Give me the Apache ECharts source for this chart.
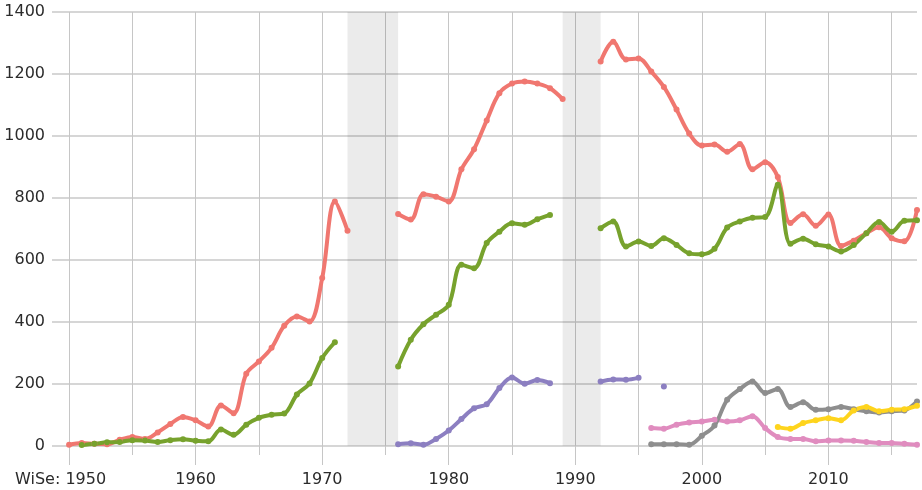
<!DOCTYPE html>
<html>
<head>
<meta charset="utf-8">
<script src="https://cdn.jsdelivr.net/npm/echarts@6/dist/echarts.min.js"></script>
<style>
html,body{margin:0;padding:0;background:#fff;}
#chart{width:922px;height:490px;}
</style>
</head>
<body>
<div id="chart"></div>
<script>
// Years 1950..2017
var years = [];
for (var y = 1950; y <= 2017; y++) years.push(y);

var gridYears = [1950,1955,1960,1965,1970,1975,1980,1985,1990,1995,2000,2005,2010,2015];
var labelYears = [1950,1960,1970,1980,1990,2000,2010];
var yTicks = [0,200,400,600,800,1000,1200,1400];
var bands = [[1972,1976],[1989,1992]];

var seriesRed = [
  3,9,6,5,19,28,22,43,70,93,            // 1950-1959
  82,62,130,105,232,272,316,387,417,401, // 1960-1969
  541,788,694,null,null,null,748,730,812,804, // 1970-1979
  788,892,957,1050,1138,1169,1176,1169,1154,1119, // 1980-1989
  null,null,1240,1304,1247,1250,1208,1158,1085,1008, // 1990-1999
  969,972,949,974,892,915,867,719,747,710, // 2000-2009
  746,645,662,686,705,670,660,761 // 2010-2017
];
var seriesGreen = [
  null,2,6,11,12,18,17,12,18,21,
  16,14,52,35,68,90,100,104,165,201,
  283,334,null,null,null,null,256,342,392,423,
  455,584,573,654,691,718,713,731,745,null,
  null,null,702,724,643,659,645,670,648,621,
  618,636,704,724,736,738,842,652,668,650,
  643,627,648,686,722,691,726,728
];
var seriesPurple = [
  null,null,null,null,null,null,null,null,null,null,
  null,null,null,null,null,null,null,null,null,null,
  null,null,null,null,null,null,5,8,3,22,
  49,86,121,134,186,220,200,212,202,null,
  null,null,207,214,213,219,null,191,null,null,
  null,null,null,null,null,null,null,null,null,null,
  null,null,null,null,null,null,null,null
];
var seriesPink = [
  null,null,null,null,null,null,null,null,null,null,
  null,null,null,null,null,null,null,null,null,null,
  null,null,null,null,null,null,null,null,null,null,
  null,null,null,null,null,null,null,null,null,null,
  null,null,null,null,null,null,57,55,68,75,
  78,84,78,82,95,57,28,22,22,14,
  17,17,16,12,9,9,6,3
];
var seriesGrey = [
  null,null,null,null,null,null,null,null,null,null,
  null,null,null,null,null,null,null,null,null,null,
  null,null,null,null,null,null,null,null,null,null,
  null,null,null,null,null,null,null,null,null,null,
  null,null,null,null,null,null,5,5,5,3,
  32,65,148,183,207,170,183,125,140,116,
  118,125,118,111,107,111,114,143
];
var seriesYellow = [
  null,null,null,null,null,null,null,null,null,null,
  null,null,null,null,null,null,null,null,null,null,
  null,null,null,null,null,null,null,null,null,null,
  null,null,null,null,null,null,null,null,null,null,
  null,null,null,null,null,null,null,null,null,null,
  null,null,null,null,null,null,60,55,73,82,
  89,82,114,125,111,116,118,129
];

function pairs(vals){ return years.map(function(yr,i){ return [yr, vals[i]]; }); }

function mkSeries(name, vals, color, extra){
  var s = {
    name: name,
    type: 'line',
    xAxisIndex: 0,
    data: pairs(vals),
    smooth: 0.35,
    connectNulls: false,
    showSymbol: true,
    symbol: 'circle',
    symbolSize: 6,
    lineStyle: {color: color, width: 4},
    itemStyle: {color: color},
    emphasis: {disabled: true}
  };
  if (extra) for (var k in extra) s[k] = extra[k];
  return s;
}

var font = 'DejaVu Sans';
var chart = echarts.init(document.getElementById('chart'), null, {renderer: 'canvas'});
chart.setOption({
  animation: false,
  backgroundColor: '#ffffff',
  grid: {left: 52, right: 5, top: 12, bottom: 35, containLabel: false, outerBoundsMode: 'none'},
  xAxis: [{
    type: 'value', min: 1948.65, max: 2017,
    axisLine: {show: false},
    axisTick: {show: false, customValues: gridYears},
    axisLabel: {show: false, customValues: gridYears},
    splitLine: {show: true, lineStyle: {color: '#c6c6c6', width: 1}}
  }, {
    type: 'value', min: 1948.65, max: 2017, position: 'bottom',
    axisLine: {show: false},
    axisTick: {show: true, length: 10, customValues: labelYears, lineStyle: {color: '#c6c6c6', width: 1}},
    axisLabel: {
      show: true, customValues: labelYears, margin: 17,
      color: '#2b2b2b', fontFamily: font, fontSize: 16,
      formatter: function(v){ return v === 1950 ? '{w|WiSe: 1950}{p|}' : String(v); },
      rich: {w: {color: '#2b2b2b', fontFamily: font, fontSize: 16}, p: {width: 17}}
    },
    splitLine: {show: false}
  }],
  yAxis: {
    type: 'value', min: -30, max: 1400,
    axisLine: {show: false},
    axisTick: {show: false, customValues: yTicks},
    axisLabel: {customValues: yTicks, margin: 7, color: '#2b2b2b', fontFamily: font, fontSize: 16,
      formatter: function(v){ return String(v); }},
    splitLine: {show: true, lineStyle: {color: '#d6d6d6', width: 2}}
  },
  series: [
    mkSeries('red', seriesRed, '#f07770', {
      markArea: {
        silent: true,
        itemStyle: {color: 'rgba(0,0,0,0.08)'},
        data: bands.map(function(b){ return [{xAxis: b[0], yAxis: 0}, {xAxis: b[1], yAxis: 1400}]; })
      }
    }),
    mkSeries('green', seriesGreen, '#77a22d'),
    mkSeries('purple', seriesPurple, '#8c7fc1'),
    mkSeries('pink', seriesPink, '#e08cbf'),
    mkSeries('grey', seriesGrey, '#8e8e8e'),
    mkSeries('yellow', seriesYellow, '#fed41d')
  ]
});
</script>
</body>
</html>
